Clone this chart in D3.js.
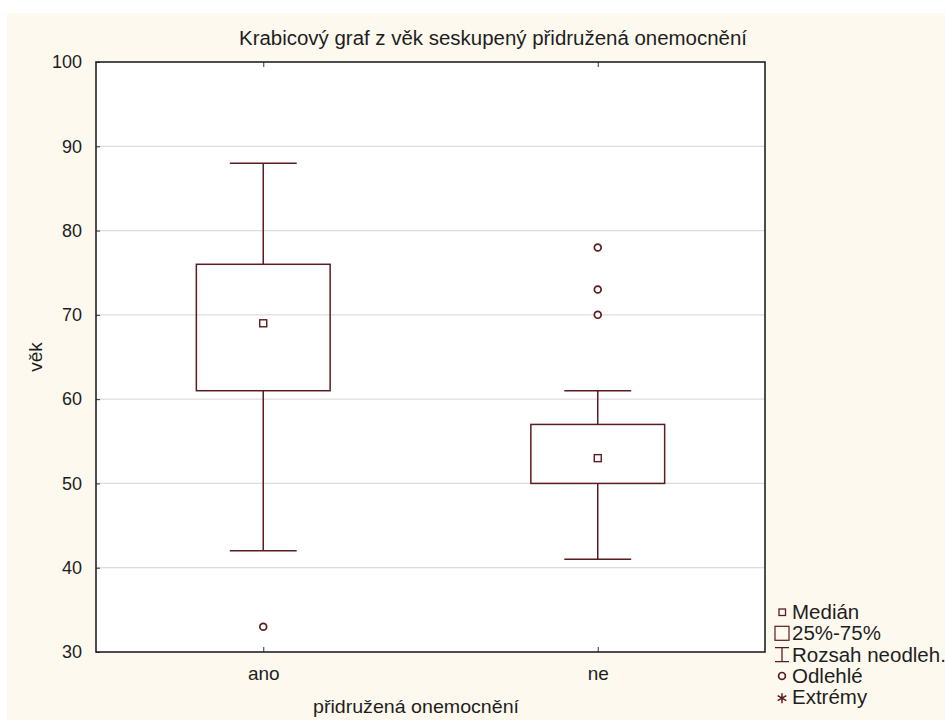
<!DOCTYPE html>
<html>
<head>
<meta charset="utf-8">
<script src="https://cdn.jsdelivr.net/npm/d3@7"></script>
<style>
  body { margin: 0; background: #ffffff; }
  svg text { font-family: "Liberation Sans", Arial, sans-serif; fill: #1e1e1e; }
</style>
</head>
<body>
<svg id="chart" width="945" height="720"></svg>
<script>
// Age by comorbidity group: five-number summaries plus outliers
const categories = ["ano", "ne"];
const whiskerLow = [42, 41];
const q1 = [61, 50];
const median = [69, 53];
const q3 = [76, 57];
const whiskerHigh = [88, 61];
const outliers = [[33], [70, 73, 78]];
const yTicks = [30, 40, 50, 60, 70, 80, 90, 100];
const legendLabels = ["Medián", "25%-75%", "Rozsah neodleh.", "Odlehlé", "Extrémy"];

const boxes = categories.map((c, i) => ({
  cat: c, lo: whiskerLow[i], q1: q1[i], med: median[i], q3: q3[i], hi: whiskerHigh[i], out: outliers[i]
}));

const svg = d3.select("#chart");
const W = 945, H = 720;
const plot = { left: 96, right: 765, top: 62, bottom: 652 };
const ink = "#5a1c20";

// page background
svg.append("rect").attr("x", 7).attr("y", 13).attr("width", W - 7).attr("height", H - 13)
  .attr("fill", "#fdf9ef");

const x = d3.scalePoint().domain(categories).range([plot.left, plot.right]).padding(0.5);
const y = d3.scaleLinear().domain([30, 100]).range([plot.bottom, plot.top]);
const boxW = (plot.right - plot.left) * 0.2;

// plot area
svg.append("rect").attr("x", plot.left).attr("y", plot.top)
  .attr("width", plot.right - plot.left).attr("height", plot.bottom - plot.top)
  .attr("fill", "#ffffff");

// horizontal gridlines
svg.append("g").selectAll("line").data(yTicks.filter(t => t > 30 && t < 100)).join("line")
  .attr("x1", plot.left).attr("x2", plot.right)
  .attr("y1", d => y(d)).attr("y2", d => y(d))
  .attr("stroke", "#dcdcdc").attr("stroke-width", 1.2);

// y axis
const yAxis = svg.append("g").attr("transform", `translate(${plot.left},0)`)
  .call(d3.axisLeft(y).tickValues(yTicks).tickSize(-4).tickPadding(14));
yAxis.select(".domain").remove();
yAxis.selectAll(".tick line").attr("stroke", "#333");
yAxis.selectAll(".tick text").attr("font-size", 18).attr("fill", "#1e1e1e");

// x axis (bottom and top ticks)
const xAxis = svg.append("g").attr("transform", `translate(0,${plot.bottom})`)
  .call(d3.axisBottom(x).tickSize(-5).tickPadding(15));
xAxis.select(".domain").remove();
xAxis.selectAll(".tick line").attr("stroke", "#333");
xAxis.selectAll(".tick text").attr("font-size", 19).attr("fill", "#1e1e1e");

const xTop = svg.append("g").attr("transform", `translate(0,${plot.top})`)
  .call(d3.axisTop(x).tickSize(-5).tickFormat(""));
xTop.select(".domain").remove();
xTop.selectAll(".tick line").attr("stroke", "#333");

// frame
svg.append("rect").attr("x", plot.left).attr("y", plot.top)
  .attr("width", plot.right - plot.left).attr("height", plot.bottom - plot.top)
  .attr("fill", "none").attr("stroke", "#222").attr("stroke-width", 1.6);

// boxes
const g = svg.append("g").selectAll("g").data(boxes).join("g");
const cx = d => x(d.cat);

g.append("line").attr("x1", cx).attr("x2", cx)
  .attr("y1", d => y(d.q3)).attr("y2", d => y(d.hi))
  .attr("stroke", ink).attr("stroke-width", 1.5);
g.append("line").attr("x1", cx).attr("x2", cx)
  .attr("y1", d => y(d.q1)).attr("y2", d => y(d.lo))
  .attr("stroke", ink).attr("stroke-width", 1.5);
g.append("line").attr("x1", d => cx(d) - boxW / 4).attr("x2", d => cx(d) + boxW / 4)
  .attr("y1", d => y(d.hi)).attr("y2", d => y(d.hi))
  .attr("stroke", ink).attr("stroke-width", 1.5);
g.append("line").attr("x1", d => cx(d) - boxW / 4).attr("x2", d => cx(d) + boxW / 4)
  .attr("y1", d => y(d.lo)).attr("y2", d => y(d.lo))
  .attr("stroke", ink).attr("stroke-width", 1.5);
g.append("rect").attr("x", d => cx(d) - boxW / 2).attr("width", boxW)
  .attr("y", d => y(d.q3)).attr("height", d => y(d.q1) - y(d.q3))
  .attr("fill", "none").attr("stroke", ink).attr("stroke-width", 1.5);
g.append("rect").attr("x", d => cx(d) - 3.5).attr("y", d => y(d.med) - 3.5)
  .attr("width", 7).attr("height", 7)
  .attr("fill", "#fff").attr("stroke", ink).attr("stroke-width", 1.4);
g.selectAll("circle").data(d => d.out.map(v => ({ cat: d.cat, v }))).join("circle")
  .attr("cx", d => x(d.cat)).attr("cy", d => y(d.v)).attr("r", 3.4)
  .attr("fill", "#fff").attr("stroke", ink).attr("stroke-width", 1.7);

// titles
svg.append("text").attr("x", 493).attr("y", 45)
  .attr("text-anchor", "middle").attr("font-size", 20)
  .attr("textLength", 508).attr("lengthAdjust", "spacingAndGlyphs")
  .text("Krabicový graf z věk seskupený přidružená onemocnění");
svg.append("text").attr("x", 416).attr("y", 713)
  .attr("text-anchor", "middle").attr("font-size", 19)
  .attr("textLength", 206).attr("lengthAdjust", "spacingAndGlyphs")
  .text("přidružená onemocnění");
svg.append("text").attr("transform", `translate(42,${(plot.top + plot.bottom) / 2}) rotate(-90)`)
  .attr("text-anchor", "middle").attr("font-size", 19)
  .text("věk");

// legend
const lx = 782, ly0 = 612, lstep = 21.3;
const leg = svg.append("g");
legendLabels.forEach((lab, i) => {
  const yy = ly0 + i * lstep;
  leg.append("text").attr("x", 792).attr("y", yy + 7).attr("font-size", 20.5).text(lab);
});
// median symbol
leg.append("rect").attr("x", lx - 3).attr("y", ly0 - 3).attr("width", 6.5).attr("height", 6.5)
  .attr("fill", "none").attr("stroke", ink).attr("stroke-width", 1.3);
// box symbol
leg.append("rect").attr("x", lx - 7).attr("y", ly0 + lstep - 7).attr("width", 14).attr("height", 14)
  .attr("fill", "none").attr("stroke", ink).attr("stroke-width", 1.2);
// whisker symbol
const wy = ly0 + 2 * lstep;
leg.append("path").attr("d", `M${lx - 7},${wy - 7}H${lx + 7}M${lx},${wy - 7}V${wy + 7}M${lx - 7},${wy + 7}H${lx + 7}`)
  .attr("fill", "none").attr("stroke", ink).attr("stroke-width", 1.3);
// outlier symbol
leg.append("circle").attr("cx", lx).attr("cy", ly0 + 3 * lstep).attr("r", 3.4)
  .attr("fill", "none").attr("stroke", ink).attr("stroke-width", 1.7);
// extreme symbol
const ey = ly0 + 4 * lstep;
leg.append("path").attr("d", d3.symbol(d3.symbolAsterisk, 70)())
  .attr("transform", `translate(${lx},${ey + 1})`)
  .attr("fill", "none").attr("stroke", ink).attr("stroke-width", 1.5);
</script>
</body>
</html>
